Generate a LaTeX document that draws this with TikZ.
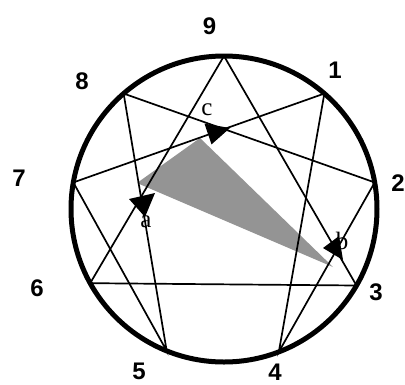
\documentclass[tikz,border=0pt]{standalone}
\usepackage{fontspec}
\setmainfont{Liberation Serif}
\newfontfamily\digitfont{Liberation Sans}
\begin{document}
\begin{tikzpicture}[x=1pt,y=-1pt,
  num/.style={font=\digitfont\bfseries\fontsize{24}{24}\selectfont, inner sep=0pt},
  lab/.style={font=\fontsize{25}{25}\selectfont, inner sep=0pt},
  edge/.style={line width=1.7pt, line join=miter},
  head/.style={fill=black},
  shade/.style={fill=black!42}]
\useasboundingbox (0,0) rectangle (405,384);
\coordinate (C) at (224,209);
\foreach \n/\a in {9/90,1/49,2/10,3/-30,4/-69,5/-112,6/-151,7/170,8/131}
  \coordinate (p\n) at ([shift={(\a:153pt)}]C);
% shaded triangle
\coordinate (sa) at (137,183);
\coordinate (sc) at (200,138);
\coordinate (sb) at (333,267);
\fill[shade] (sa) -- (sc) -- (sb) -- cycle;
% enneagram lines
\draw[edge] (p9) -- (p3) -- (p6) -- cycle;
\draw[edge] (p1) -- (p4) -- (p2) -- (p8) -- (p5) -- (p7) -- cycle;
% ring
\node[circle, draw, line width=5pt, minimum size=306pt, inner sep=0pt] (ring) at (C) {};
% arrow heads
\fill[head] (230,128) -- (204.5,123.6) -- (211.5,144.4) -- cycle;
\fill[head] (129,199) -- (155,193) -- (145,217) -- cycle;
\fill[head] (323,248) -- (339,236) -- (343,260) -- cycle;
% letter labels
\node[lab] (la) at (146,222) {a};
\node[lab] (lb) at (342,241) {b};
\node[lab] (lc) at (207,110) {c};
% numbers
\node[num] (n9) at (209.5,26) {9};
\node[num] (n1) at (335,70) {1};
\node[num] (n2) at (398,183) {2};
\node[num] (n3) at (376,292) {3};
\node[num] (n4) at (275,372) {4};
\node[num] (n5) at (139,371) {5};
\node[num] (n6) at (37,288) {6};
\node[num] (n7) at (19,178) {7};
\node[num] (n8) at (82,81) {8};
\end{tikzpicture}
\end{document}
